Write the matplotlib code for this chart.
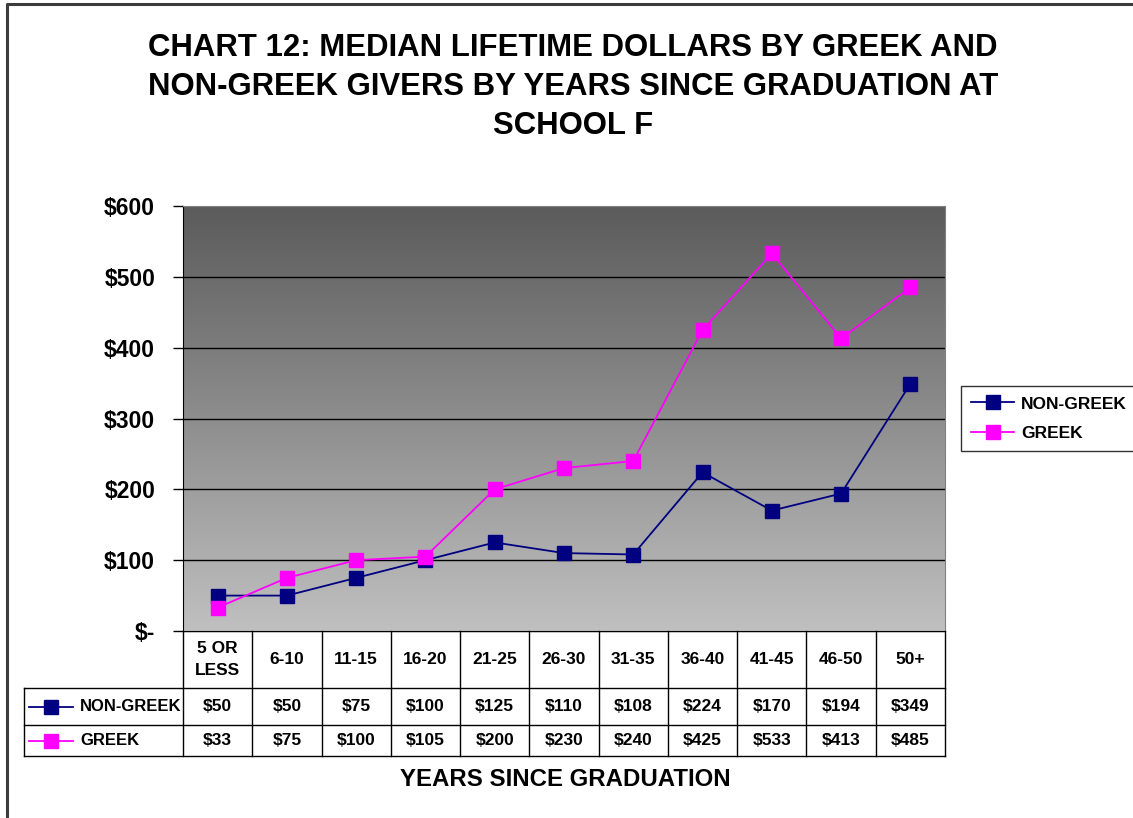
import matplotlib
matplotlib.use("Agg")
import matplotlib.pyplot as plt
import numpy as np

# ---------------------------------------------------------- #
#  Data                                                      #
# ---------------------------------------------------------- #
CATEGORIES = ["5 OR\nLESS", "6-10", "11-15", "16-20", "21-25", "26-30",
              "31-35", "36-40", "41-45", "46-50", "50+"]
NON_GREEK = [50, 50, 75, 100, 125, 110, 108, 224, 170, 194, 349]
GREEK = [33, 75, 100, 105, 200, 230, 240, 425, 533, 413, 485]
SERIES = [("NON-GREEK", NON_GREEK, "#000080"),
          ("GREEK", GREEK, "#ff00ff")]
Y_TICKS = [0, 100, 200, 300, 400, 500, 600]

TITLE = ("CHART 12: MEDIAN LIFETIME DOLLARS BY GREEK AND\n"
         "NON-GREEK GIVERS BY YEARS SINCE GRADUATION AT\n"
         "SCHOOL F")

# ---------------------------------------------------------- #
#  Layout (pixels)                                           #
# ---------------------------------------------------------- #
W, H = 1133, 818
PLOT_L, PLOT_R, PLOT_T, PLOT_B = 183, 945, 206, 631
KEY_L = 24
ROW_EDGES = [0, 57, 94, 125]   # header row, NON-GREEK row, GREEK row
FONT = "Liberation Sans"


def fig_rect(left, top, right, bottom):
    """Pixel box -> figure fraction rect for add_axes"""
    return [left / W, 1 - bottom / H, (right - left) / W, (bottom - top) / H]


def price(v):
    return "$-" if v == 0 else "${:d}".format(v)


def main():
    plt.rcParams["font.family"] = [FONT, "DejaVu Sans"]
    plt.rcParams["font.weight"] = "bold"

    fig = plt.figure(figsize=(W / 100, H / 100), dpi=100)
    fig.patch.set_facecolor("white")

    # outer chart border
    border = fig.add_axes([0, 0, 1, 1], zorder=-5)
    border.set_xlim(0, W)
    border.set_ylim(H, 0)
    border.axis("off")
    border.plot([7, 7, W + 5], [H + 5, 4, 4], color="#3c3c3c", lw=2.2)

    fig.text(573 / W, 1 - 87 / H, TITLE, ha="center", va="center",
             fontsize=22.4, fontweight="bold", linespacing=1.38)

    # ---------------- plot area ---------------- #
    ax = fig.add_axes(fig_rect(PLOT_L, PLOT_T, PLOT_R, PLOT_B))
    n = len(CATEGORIES)
    x = np.arange(n)

    # dark-to-light vertical fill, dark at the top
    grad = np.linspace(0x5b, 0xc0, 256)[:, None] / 255.0
    ax.imshow(np.dstack([grad, grad, grad]), extent=(-0.5, n - 0.5, 0, 600),
              origin="upper", aspect="auto", zorder=0,
              interpolation="bilinear")
    ax.set_xlim(-0.5, n - 0.5)
    ax.set_ylim(0, 600)

    for v in Y_TICKS[1:-1]:
        ax.axhline(v, color="black", lw=1.0, zorder=1)

    handles = []
    for name, vals, color in SERIES:
        h, = ax.plot(x, vals, color=color, lw=1.3, marker="s", ms=10,
                     mfc=color, mec=color, zorder=3, label=name)
        handles.append(h)

    ax.set_yticks(Y_TICKS)
    ax.set_yticklabels([price(v) for v in Y_TICKS], fontsize=16.5,
                       fontweight="bold")
    ax.tick_params(axis="y", length=7, width=1, pad=13, color="black")
    ax.set_xticks([])
    ax.spines["left"].set_color("black")
    ax.spines["bottom"].set_color("black")
    for s in ("top", "right"):
        ax.spines[s].set_color("#808080")

    # ---------------- data table ---------------- #
    tab = fig.add_axes(fig_rect(KEY_L, PLOT_B, PLOT_R, PLOT_B + ROW_EDGES[-1]))
    tab.set_xlim(KEY_L, PLOT_R)
    tab.set_ylim(ROW_EDGES[-1], 0)
    tab.axis("off")
    col_w = (PLOT_R - PLOT_L) / n
    edges = PLOT_L + col_w * np.arange(n + 1)
    lc = "black"
    lw = 1.0

    # horizontal rules
    tab.plot([PLOT_L, PLOT_R], [ROW_EDGES[0], ROW_EDGES[0]], color=lc, lw=lw)
    for r in ROW_EDGES[1:]:
        tab.plot([KEY_L, PLOT_R], [r, r], color=lc, lw=lw, clip_on=False)
    # vertical rules
    for e in edges:
        tab.plot([e, e], [ROW_EDGES[0], ROW_EDGES[-1]], color=lc, lw=lw,
                 clip_on=False)
    tab.plot([KEY_L, KEY_L], [ROW_EDGES[1], ROW_EDGES[-1]], color=lc, lw=lw,
             clip_on=False)

    centers = (edges[:-1] + edges[1:]) / 2
    hy = (ROW_EDGES[0] + ROW_EDGES[1]) / 2
    for cx, lab in zip(centers, CATEGORIES):
        tab.text(cx, hy, lab, ha="center", va="center", fontsize=12.5,
                 fontweight="bold", linespacing=1.6)

    for i, (name, vals, color) in enumerate(SERIES):
        ry = (ROW_EDGES[i + 1] + ROW_EDGES[i + 2]) / 2
        tab.plot([KEY_L + 5, KEY_L + 49], [ry, ry], color=color, lw=1.3)
        tab.plot([KEY_L + 27], [ry], marker="s", ms=10, color=color)
        tab.text(KEY_L + 56, ry, name, ha="left", va="center", fontsize=12,
                 fontweight="bold")
        for cx, v in zip(centers, vals):
            tab.text(cx, ry, price(v), ha="center", va="center",
                     fontsize=12.5, fontweight="bold")

    fig.text(565 / W, 1 - 780 / H, "YEARS SINCE GRADUATION", ha="center",
             va="center", fontsize=17.3, fontweight="bold")

    # ---------------- legend ---------------- #
    leg = fig.legend(handles=handles, loc="upper left",
                     bbox_to_anchor=(961 / W, 1 - 386 / H),
                     frameon=True, fancybox=False, shadow=False,
                     prop={"family": FONT, "weight": "bold", "size": 12.5},
                     handlelength=2.45, handletextpad=0.4, labelspacing=0.8,
                     borderpad=0.6, borderaxespad=0)
    leg.get_frame().set_edgecolor("black")
    leg.get_frame().set_linewidth(1.0)

    fig.savefig("out.png", dpi=100)


if __name__ == "__main__":
    main()
